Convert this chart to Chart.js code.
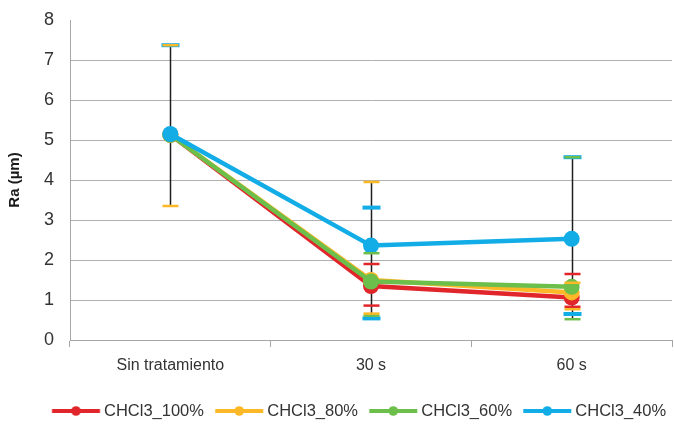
<!DOCTYPE html>
<html>
<head>
<meta charset="utf-8">
<script src="https://cdn.jsdelivr.net/npm/chart.js@4.4.1/dist/chart.umd.min.js"></script>
<style>
  html, body { margin: 0; padding: 0; background: #ffffff; }
  #wrap { width: 674px; height: 427px; }
</style>
</head>
<body>
<div id="wrap"><canvas id="c" width="674" height="427"></canvas></div>
<script>
// ---- data ----
const categories = ['Sin tratamiento', '30 s', '60 s'];
const seriesNames = ['CHCl3_100%', 'CHCl3_80%', 'CHCl3_60%', 'CHCl3_40%'];
const red100   = [5.13, 1.35, 1.06];
const orange80 = [5.13, 1.50, 1.19];
const green60  = [5.13, 1.46, 1.33];
const cyan40   = [5.15, 2.36, 2.53];
// error bar ends (absolute values)
const red100High   = [null, 1.90, 1.65];
const red100Low    = [null, 0.86, 0.83];
const orange80High = [7.37, 3.95, 1.43];
const orange80Low  = [3.35, 0.66, 0.77];
const green60High  = [null, 2.17, 4.57];
const green60Low   = [null, 0.61, 0.52];
const cyan40High   = [7.37, 3.31, 4.57];
const cyan40Low    = [null, 0.54, 0.65];
const yMin = 0, yMax = 8, yStep = 1;

const colors = ['#E1262B', '#FDB827', '#6CBF4B', '#12ACE6'];
const FONT = "'Liberation Sans', Arial, sans-serif";
const LEG_FONT = 16.5;
const LEG_PAD = 15;

const errSeries = [
  { hi: cyan40High, lo: cyan40Low, color: colors[3], w: 4, len: 18 },
  { hi: red100High, lo: red100Low, color: colors[0], w: 2.5, len: 16 },
  { hi: green60High, lo: green60Low, color: colors[2], w: 2.5, len: 16 },
  { hi: orange80High, lo: orange80Low, color: colors[1], w: 2.5, len: 16 }
];

function legendIcon(color) {
  const cv = document.createElement('canvas');
  cv.width = 60; cv.height = 12;
  const g = cv.getContext('2d');
  g.strokeStyle = color; g.lineWidth = 4; g.lineCap = 'butt';
  g.beginPath(); g.moveTo(6.25, 6); g.lineTo(54.25, 6); g.stroke();
  g.fillStyle = color;
  g.beginPath(); g.arc(30.25, 6, 4.8, 0, Math.PI * 2); g.fill();
  return cv;
}
const icons = colors.map(legendIcon);

const errorBars = {
  id: 'errorBars',
  beforeDatasetsDraw(chart) {
    const ctx = chart.ctx, xs = chart.scales.x, ys = chart.scales.y;
    ctx.save();
    ctx.strokeStyle = '#1f1f1f'; ctx.lineWidth = 1.5;
    categories.forEach((c, i) => {
      let hi = -Infinity, lo = Infinity;
      errSeries.forEach(s => {
        if (s.hi[i] != null) hi = Math.max(hi, s.hi[i]);
        if (s.lo[i] != null) lo = Math.min(lo, s.lo[i]);
      });
      const px = Math.round(xs.getPixelForValue(i)) + 0.5;
      ctx.beginPath();
      ctx.moveTo(px, ys.getPixelForValue(hi));
      ctx.lineTo(px, ys.getPixelForValue(lo));
      ctx.stroke();
    });
    ctx.restore();
  },
  afterDatasetsDraw(chart) {
    const ctx = chart.ctx, xs = chart.scales.x, ys = chart.scales.y;
    ctx.save();
    errSeries.forEach(s => {
      ctx.strokeStyle = s.color; ctx.lineWidth = s.w;
      categories.forEach((c, i) => {
        const px = Math.round(xs.getPixelForValue(i)) + 0.5;
        [s.hi[i], s.lo[i]].forEach(v => {
          if (v == null) return;
          const py = ys.getPixelForValue(v);
          ctx.beginPath();
          ctx.moveTo(px - s.len / 2, py); ctx.lineTo(px + s.len / 2, py);
          ctx.stroke();
        });
      });
    });
    ctx.restore();
  }
};

// place the legend row: first item starting near x=56, text centred at y=411
const placeLegend = {
  id: 'placeLegend',
  afterLayout(chart) {
    const lg = chart.legend;
    if (!lg || !lg.lineWidths) return;
    const start = (lg.left + LEG_PAD + lg.right - lg.lineWidths[0]) / 2;
    const dx = 55.75 - start;
    lg.left += dx; lg.right += dx;
    const centerY = lg.top + LEG_PAD + LEG_FONT / 2;
    const dy = 411 - centerY;
    lg.top += dy; lg.bottom += dy;
  }
};

function ds(label, data, color, order) {
  return {
    label, data, order,
    borderColor: color, backgroundColor: color,
    borderWidth: 4.5, pointRadius: 8, pointHoverRadius: 8,
    pointBackgroundColor: color, pointBorderColor: color, pointBorderWidth: 0,
    tension: 0, fill: false, clip: 10
  };
}

new Chart(document.getElementById('c'), {
  type: 'line',
  data: {
    labels: categories,
    datasets: [
      ds(seriesNames[0], red100, colors[0], 3),
      ds(seriesNames[1], orange80, colors[1], 2),
      ds(seriesNames[2], green60, colors[2], 1),
      ds(seriesNames[3], cyan40, colors[3], 0)
    ]
  },
  options: {
    responsive: false,
    animation: false,
    devicePixelRatio: 1,
    layout: { autoPadding: false, padding: { top: 20, right: 2, left: 0, bottom: 8.5 } },
    scales: {
      x: {
        offset: true,
        grid: { offset: true, drawOnChartArea: false, drawTicks: true, tickLength: 7, color: '#a6a6a6' },
        border: { color: '#a6a6a6', width: 1 },
        ticks: { font: { family: FONT, size: 16 }, color: '#333333', padding: 9 },
        afterFit(s) { s.height = 37; s.paddingLeft = 0; s.paddingRight = 0; }
      },
      y: {
        min: yMin, max: yMax,
        ticks: { stepSize: yStep, font: { family: FONT, size: 18 }, color: '#333333', padding: 16 },
        grid: { drawTicks: false, color: (c) => c.tick && c.tick.value === yMax ? 'rgba(0,0,0,0)' : '#b0b0b0' },
        border: { color: '#a6a6a6', width: 1 },
        title: { display: true, text: 'Ra (µm)', font: { family: FONT, size: 15, weight: 'bold' }, color: '#1a1a1a', padding: { top: 6, bottom: 4 } },
        afterFit(s) { s.width = 70; s.paddingTop = 0; s.paddingBottom = 0; }
      }
    },
    plugins: {
      tooltip: { enabled: false },
      legend: {
        position: 'bottom',
        align: 'center',
        labels: {
          usePointStyle: true,
          pointStyleWidth: 40,
          padding: LEG_PAD,
          font: { family: FONT, size: LEG_FONT },
          color: '#333333',
          generateLabels: (chart) => chart.data.datasets.map((d, i) => ({
            text: d.label, pointStyle: icons[i], fillStyle: d.borderColor,
            strokeStyle: d.borderColor, lineWidth: 0, hidden: false, datasetIndex: i,
            fontColor: '#333333'
          }))
        }
      }
    }
  },
  plugins: [errorBars, placeLegend]
});
</script>
</body>
</html>
